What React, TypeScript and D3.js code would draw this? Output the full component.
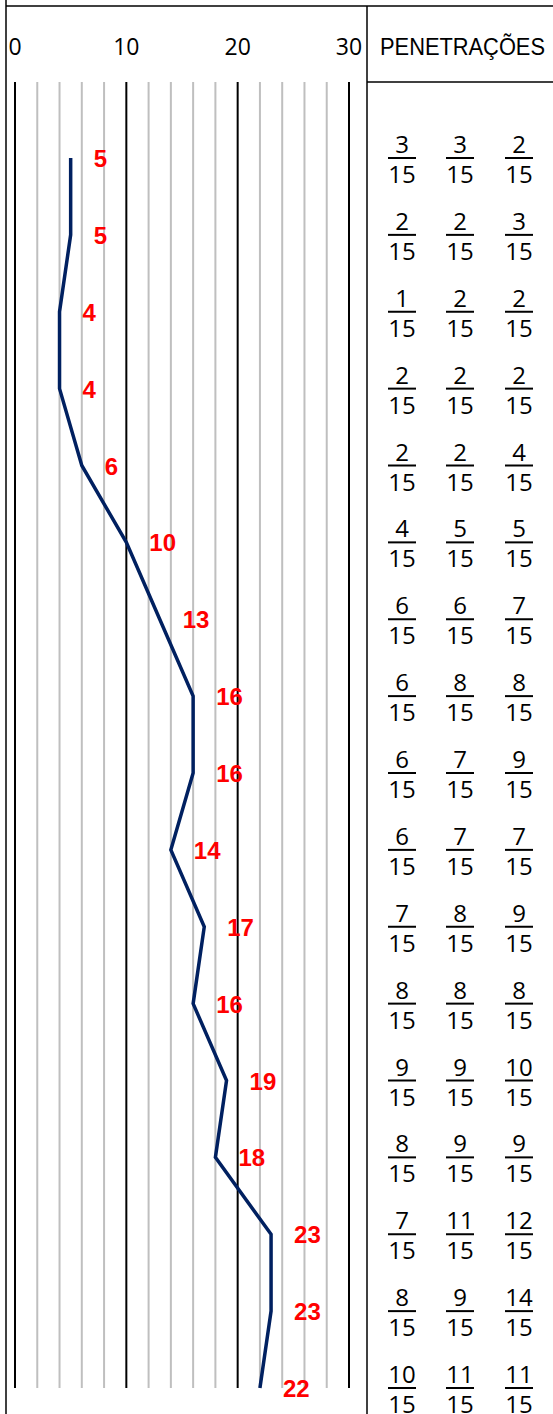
import * as d3 from 'd3';

// penetration value per depth step (top to bottom)
const penetrations = [5, 5, 4, 4, 6, 10, 13, 16, 16, 14, 17, 16, 19, 18, 23, 23, 22];

// numerators of the three readings per step (all over 15)
const readA = [3, 2, 1, 2, 2, 4, 6, 6, 6, 6, 7, 8, 9, 8, 7, 8, 10];
const readB = [3, 2, 2, 2, 2, 5, 6, 8, 7, 7, 8, 8, 9, 9, 11, 9, 11];
const readC = [2, 3, 2, 2, 4, 5, 7, 8, 9, 7, 9, 8, 10, 9, 12, 14, 11];
const denominator = 15;

const xTicks = [0, 10, 20, 30];
const headerLabel = 'PENETRAÇÕES';

const W = 553;
const H = 1414;

const App = () => {
    const x = d3.scaleLinear().domain([0, 30]).range([15, 349]);
    const y = d3.scaleLinear().domain([0, penetrations.length - 1]).range([158, 1388]);

    const gridTop = 82;
    const gridBottom = 1388;
    const minorTicks = d3.range(0, 31, 2).filter(v => v % 10 !== 0);

    const line = d3.line<number>()
        .x(d => x(d))
        .y((d, i) => y(i));

    const cols = [readA, readB, readC];
    const colX = [402, 460, 519];

    const numFont = "'Open Sans', 'Noto Sans', sans-serif";

    return (
        <svg width={W} height={H} style={{ position: 'absolute', left: 0, top: 0, background: '#fff' }}>
            {/* frame */}
            <line x1={6} x2={6} y1={0} y2={H} stroke="#000" strokeWidth={1.5} />
            <line x1={6} x2={W} y1={6} y2={6} stroke="#000" strokeWidth={1.5} />
            <line x1={367} x2={367} y1={6} y2={H} stroke="#000" strokeWidth={1.5} />
            <line x1={367} x2={W} y1={82} y2={82} stroke="#000" strokeWidth={1.5} />

            {/* minor gridlines */}
            {minorTicks.map(v => (
                <line key={'m' + v} x1={x(v)} x2={x(v)} y1={gridTop} y2={gridBottom} stroke="#bfbfbf" strokeWidth={2} />
            ))}
            {/* major gridlines */}
            {xTicks.map(v => (
                <line key={'M' + v} x1={x(v)} x2={x(v)} y1={gridTop} y2={gridBottom} stroke="#000" strokeWidth={2} />
            ))}

            {/* axis labels */}
            {xTicks.map(v => (
                <text key={'t' + v} x={x(v)} y={55} textAnchor="middle" fontFamily={numFont} fontSize={23} fill="#000">
                    {v}
                </text>
            ))}

            <text x={380} y={55} fontFamily="'Liberation Sans Narrow', 'Liberation Sans', Arial, sans-serif" fontSize={24}
                textLength={165} lengthAdjust="spacingAndGlyphs" fill="#000">
                {headerLabel}
            </text>

            {/* penetration line */}
            <path d={line(penetrations) || ''} fill="none" stroke="#002060" strokeWidth={3.5} strokeLinejoin="miter" />

            {/* value labels */}
            {penetrations.map((v, i) => (
                <text key={'l' + i} x={x(v) + 23} y={y(i) + 9} fontFamily="'Liberation Sans', Arial, sans-serif"
                    fontWeight="bold" fontSize={24} fill="#ff0000">
                    {v}
                </text>
            ))}

            {/* fractions */}
            {cols.map((col, c) => col.map((n, i) => (
                <g key={`f${c}-${i}`} transform={`translate(${colX[c]},${y(i)})`}>
                    <text x={0} y={-5} textAnchor="middle" fontFamily={numFont} fontSize={24} fill="#000">{n}</text>
                    <line x1={-14} x2={14} y1={0} y2={0} stroke="#000" strokeWidth={2} />
                    <text x={0} y={25} textAnchor="middle" fontFamily={numFont} fontSize={24} fill="#000">{denominator}</text>
                </g>
            )))}
        </svg>
    );
};

export default App;
